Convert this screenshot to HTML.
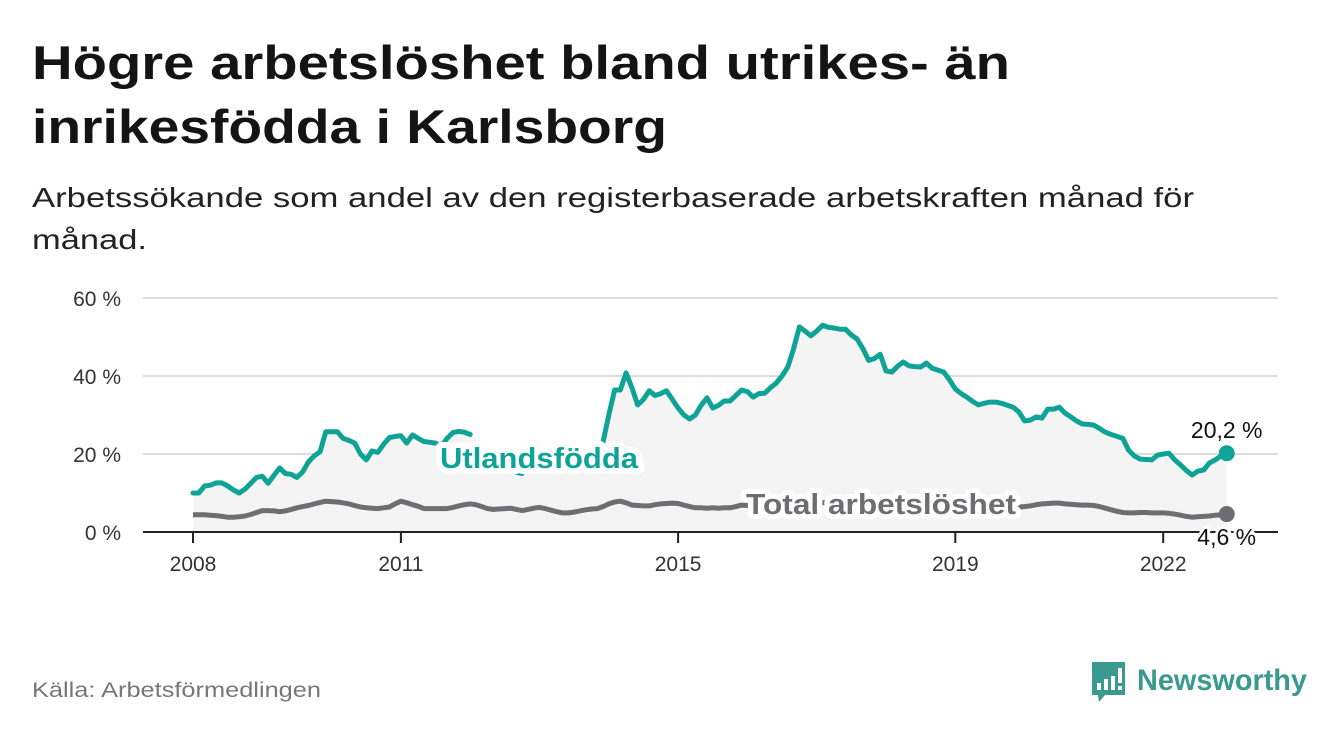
<!DOCTYPE html>
<html><head><meta charset="utf-8">
<style>
html,body{margin:0;padding:0;background:#fff;}
svg{display:block;font-family:"Liberation Sans","DejaVu Sans",sans-serif;}
</style></head>
<body>
<svg id="chart" width="1340" height="734" viewBox="0 0 1340 734" xmlns="http://www.w3.org/2000/svg">
  <text x="32" y="79" font-size="47" font-weight="bold" fill="#141414" textLength="978" lengthAdjust="spacingAndGlyphs">Högre arbetslöshet bland utrikes- än</text>
  <text x="32" y="143" font-size="47" font-weight="bold" fill="#141414" textLength="635" lengthAdjust="spacingAndGlyphs">inrikesfödda i Karlsborg</text>
  <text x="32" y="207" font-size="28" fill="#222" textLength="1162" lengthAdjust="spacingAndGlyphs">Arbetssökande som andel av den registerbaserade arbetskraften månad för</text>
  <text x="32" y="249" font-size="28" fill="#222" textLength="115" lengthAdjust="spacingAndGlyphs">månad.</text>
  <g id="grid"></g>
  <g id="yticks"></g>
  <path id="area" fill="#f4f4f4"></path>
  <path id="lineTotal" fill="none" stroke="#6e6d72" stroke-width="5" stroke-linejoin="round"></path>
  <path id="lineForeign" fill="none" stroke="#0ea396" stroke-width="5" stroke-linejoin="round" stroke-linecap="round"></path>
  <g id="xaxis"></g>
  <text x="440" y="468" font-size="29" font-weight="bold" fill="#0ea396" stroke="#fff" stroke-width="12" paint-order="stroke" stroke-linejoin="round" textLength="198" lengthAdjust="spacingAndGlyphs">Utlandsfödda</text>
  <text x="746" y="514" font-size="29" font-weight="bold" fill="#6e6d72" stroke="#fff" stroke-width="10" paint-order="stroke" stroke-linejoin="round" textLength="270" lengthAdjust="spacingAndGlyphs">Total arbetslöshet</text>
  <g id="endlabels"></g>
  <text x="32" y="697" font-size="21" fill="#777" textLength="289" lengthAdjust="spacingAndGlyphs">Källa: Arbetsförmedlingen</text>
  <g>
    <path d="M1092 662 h33 v33 h-20 l-6 7 l-1 -7 h-6 z" fill="#3a9a8f"/>
    <rect x="1097" y="683" width="4" height="7" fill="#fff"/>
    <rect x="1104" y="679" width="4" height="11" fill="#fff"/>
    <rect x="1111" y="676" width="4" height="14" fill="#fff"/>
    <rect x="1118" y="668" width="4" height="15" fill="#fff"/>
    <rect x="1118" y="686" width="4" height="4" fill="#fff"/>
    <text x="1137" y="690" font-size="30" font-weight="bold" fill="#3a9a8f" textLength="170" lengthAdjust="spacingAndGlyphs">Newsworthy</text>
  </g>
</svg>
<script>
const yTicks = [0, 20, 40, 60];
const yTickLabels = ["0 %", "20 %", "40 %", "60 %"];
const xTickYears = [2008, 2011, 2015, 2019, 2022];
const startYear = 2008;
const foreignBorn = [10,10,11.8,12,12.6,12.6,11.8,10.8,10,11,12.5,14,14.3,12.5,14.5,16.4,15,14.8,14,15.4,18,19.5,20.6,25.7,25.7,25.7,24,23.5,22.8,20,18.5,20.8,20.4,22.5,24.2,24.5,24.7,22.8,24.9,24,23.2,23,22.8,22,24,25.5,25.8,25.6,25,null,null,null,null,null,null,null,15.3,15,null,null,null,null,null,null,null,null,null,null,null,null,null,23,30,36.4,36.4,40.8,37,32.6,34,36.2,35,35.5,36.2,34,31.8,30,29,30,32.5,34.4,31.8,32.5,33.6,33.6,35,36.4,36,34.6,35.5,35.6,37,38.2,40,42.3,47,52.6,51.5,50.3,51.5,53,52.5,52.3,52,52,50.5,49.5,47,44,44.5,45.6,41.3,41,42.5,43.6,42.6,42.4,42.3,43.3,42,41.5,41,39,36.7,35.5,34.6,33.5,32.6,33,33.3,33.3,33,32.5,32,30.8,28.5,28.7,29.5,29.2,31.5,31.5,32,30.5,29.5,28.5,27.7,27.6,27.4,26.5,25.6,25,24.5,24,21,19.5,18.7,18.6,18.5,19.7,20,20.2,18.5,17.2,15.8,14.6,15.6,15.9,17.7,18.5,19.5,20.2];
const totalRate = [4.4,4.4,4.4,4.3,4.2,4.0,3.8,3.8,3.9,4.1,4.5,5.0,5.5,5.5,5.4,5.2,5.4,5.8,6.2,6.5,6.8,7.2,7.6,7.9,7.8,7.7,7.5,7.2,6.8,6.4,6.2,6.1,6.0,6.2,6.4,7.2,7.9,7.5,7.0,6.6,6.0,6.0,6.0,6.0,6.0,6.3,6.7,7.0,7.2,7.0,6.5,6.0,5.8,5.9,6.0,6.1,5.8,5.5,5.8,6.1,6.3,6.0,5.6,5.2,4.9,4.9,5.1,5.4,5.7,5.9,6.0,6.5,7.2,7.7,7.9,7.5,6.9,6.8,6.7,6.7,7.0,7.2,7.3,7.4,7.3,6.9,6.5,6.2,6.2,6.1,6.2,6.1,6.2,6.2,6.5,6.9,6.8,7.0,7.2,7.0,6.8,6.9,7.2,7.5,7.8,8.0,7.9,7.6,7.4,7.5,7.6,7.5,7.3,7.0,6.9,7.0,7.2,7.0,6.8,6.6,6.7,6.8,6.6,6.4,6.3,6.4,6.5,6.4,6.2,6.1,6.2,6.3,6.2,6.0,6.0,6.1,6.2,6.2,6.1,6.1,6.2,6.3,6.4,6.4,6.5,6.7,7.0,7.2,7.3,7.4,7.4,7.2,7.1,7.0,6.9,6.9,6.8,6.5,6.1,5.7,5.3,5.0,4.9,4.9,5.0,5.0,4.9,4.9,4.9,4.8,4.6,4.3,4.0,3.8,3.9,4.0,4.1,4.3,4.4,4.6];
const endLabels = ["20,2 %", "4,6 %"];

const NS = "http://www.w3.org/2000/svg";
const X0 = 193, PX_PER_YEAR = 69.3, Y0 = 532, PX_PER_PCT = 3.9;
function xScale(monthIndex){ return X0 + monthIndex * PX_PER_YEAR / 12; }
function xYear(year){ return X0 + (year - startYear) * PX_PER_YEAR; }
function yScale(v){ return Y0 - v * PX_PER_PCT; }
function mk(tag, attrs, parent){ const e = document.createElementNS(NS, tag); for (const k in attrs) e.setAttribute(k, attrs[k]); parent.appendChild(e); return e; }

const grid = document.getElementById('grid');
const yt = document.getElementById('yticks');
yTicks.forEach((t, i) => {
  if (t > 0) {
    const g = mk('line', {x1:143, x2:1278, y1:yScale(t), y2:yScale(t), stroke:'#dcdcdc', 'stroke-width':2}, grid);
    
    
  }
  const l = mk('text', {x:121, y:yScale(t)+8, 'font-size':21, fill:'#333', 'text-anchor':'end'}, yt);
  l.textContent = yTickLabels[i];
  
  
});

function pathFor(arr){
  let d = '', pen = false;
  arr.forEach((v,i) => {
    if (v === null) { pen = false; return; }
    d += (pen ? 'L' : 'M') + xScale(i).toFixed(1) + ' ' + yScale(v).toFixed(1) + ' ';
    pen = true;
  });
  return d;
}
function areaFor(arr){
  const pts = [];
  arr.forEach((v,i) => { if (v !== null) pts.push('L' + xScale(i).toFixed(1) + ' ' + yScale(v).toFixed(1)); });
  return 'M' + xScale(0) + ' ' + Y0 + ' ' + pts.join(' ') + ' L' + xScale(arr.length-1) + ' ' + Y0 + ' Z';
}
const n = foreignBorn.length;
document.getElementById('area').setAttribute('d', areaFor(foreignBorn));
document.getElementById('lineTotal').setAttribute('d', pathFor(totalRate));
document.getElementById('lineForeign').setAttribute('d', pathFor(foreignBorn));

const xa = document.getElementById('xaxis');
const axl = mk('line', {x1:143, x2:1278, y1:Y0, y2:Y0, stroke:'#222', 'stroke-width':2}, xa);


xTickYears.forEach(yr => {
  const tk = mk('line', {x1:xYear(yr), x2:xYear(yr), y1:Y0, y2:Y0+11, stroke:'#222', 'stroke-width':2}, xa);
  
  
  const tl = mk('text', {x:xYear(yr), y:571, 'font-size':21, fill:'#333', 'text-anchor':'middle'}, xa);
  tl.textContent = yr;
  
  
});

const el = document.getElementById('endlabels');
const lastX = xScale(n-1);
const d1 = mk('circle', {cx:lastX, cy:yScale(foreignBorn[n-1]), r:8, fill:'#0ea396'}, el);


const d2 = mk('circle', {cx:lastX, cy:yScale(totalRate[n-1]), r:8, fill:'#6e6d72'}, el);


const t1 = mk('text', {x:lastX, y:yScale(foreignBorn[n-1])-15, 'font-size':23, fill:'#111', 'text-anchor':'middle', stroke:'#fff', 'stroke-width':6, 'paint-order':'stroke'}, el);
t1.textContent = endLabels[0];


const t2 = mk('text', {x:lastX, y:yScale(totalRate[n-1])+31, 'font-size':23, fill:'#111', 'text-anchor':'middle', stroke:'#fff', 'stroke-width':6, 'paint-order':'stroke'}, el);
t2.textContent = endLabels[1];


</script>
</body></html>
